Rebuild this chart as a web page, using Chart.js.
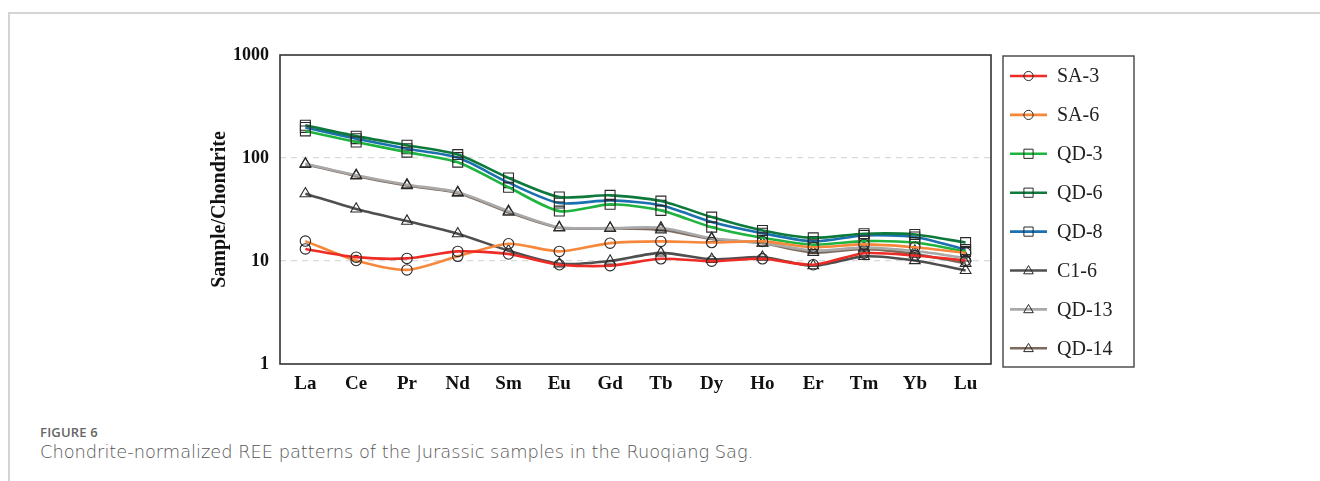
<!DOCTYPE html>
<html>
<head>
<meta charset="utf-8">
<script src="https://cdn.jsdelivr.net/npm/chart.js@4.4.1/dist/chart.umd.min.js"></script>
<style>
  html, body { margin: 0; padding: 0; background: #fff; }
  body { width: 1320px; height: 481px; position: relative; overflow: hidden; }
  #card { position: absolute; left: 8px; top: 12px; right: -10px; bottom: -10px;
          border-top: 2px solid #d4d4d4; border-left: 2px solid #d4d4d4; }
  #wrap { position: absolute; left: 0; top: 0; width: 1320px; height: 400px; }
  #fig { position: absolute; left: 40px; top: 423px; font-family: "Open Sans", sans-serif;
         font-size: 13px; font-weight: 600; color: #666; letter-spacing: 0.2px; }
  #cap { position: absolute; left: 40px; top: 441px; font-family: "DejaVu Sans", sans-serif;
         font-size: 17.8px; font-weight: 300; color: #555; white-space: nowrap; }
</style>
</head>
<body>
<div id="card"></div>
<div id="wrap"><canvas id="c" width="1320" height="400"></canvas></div>
<div id="fig">FIGURE 6</div>
<div id="cap">Chondrite-normalized REE patterns of the Jurassic samples in the Ruoqiang Sag.</div>
<script>
// ---- data ----
const categories = ["La","Ce","Pr","Nd","Sm","Eu","Gd","Tb","Dy","Ho","Er","Tm","Yb","Lu"];
const yTicks = [1, 10, 100, 1000];
const seriesNames = ["SA-3","SA-6","QD-3","QD-6","QD-8","C1-6","QD-13","QD-14"];
const SA3  = [13.1, 10.9, 10.6, 12.4, 11.7, 9.2, 9.0, 10.5, 9.95, 10.5, 9.2, 11.9, 11.3, 10.1];
const SA6  = [15.6, 10.1, 8.2, 11.1, 14.7, 12.4, 14.9, 15.5, 15.1, 15.5, 13.6, 14.5, 13.6, 12.0];
const QD3  = [183, 143, 114, 91, 52, 30.5, 35.5, 31, 21.3, 16.8, 14.4, 15.6, 15.1, 12.4];
const QD6  = [208, 163, 133, 108, 64, 41.8, 43.4, 38.2, 26.7, 19.8, 16.8, 18.4, 18.1, 15.1];
const QD8  = [198, 154, 123, 101, 57.6, 36.5, 38.8, 34.7, 23.9, 18.6, 15.5, 17.7, 17.1, 12.9];
const C16  = [45, 32, 24.4, 18.4, 12.6, 9.4, 10.0, 12.0, 10.4, 10.9, 9.0, 11.1, 10.1, 8.1];
const QD13 = [88, 68, 55, 46.5, 30.5, 21.2, 20.9, 21.0, 16.6, 15.0, 12.6, 13.5, 12.5, 10.7];
const QD14 = [87, 67, 54, 45.7, 29.8, 21.0, 20.8, 20.1, 16.4, 14.9, 12.1, 13.1, 11.7, 9.5];
const seriesValues = [SA3, SA6, QD3, QD6, QD8, C16, QD13, QD14];

// ---- styles ----
const colors = ["#ee2b25","#f7883b","#1fb33f","#0d7a3b","#1b70b0","#4f4f4f","#a9a9a9","#7e6a5c"];
const markers = ["circle","circle","rect","rect","rect","triangle","triangle","triangle"];
const markerRadius = {circle: 5.2, rect: 7, triangle: 6.2};

const datasets = seriesNames.map((name, i) => ({
  label: name,
  data: seriesValues[i],
  borderColor: colors[i],
  backgroundColor: colors[i],
  borderWidth: 2.6,
  tension: 0.25,
  pointStyle: markers[i],
  pointRadius: markerRadius[markers[i]],
  pointHoverRadius: markerRadius[markers[i]],
  pointBorderColor: "#2a2a2a",
  pointBorderWidth: 1.1,
  pointBackgroundColor: "rgba(0,0,0,0)",
  fill: false
}));

function drawMarker(ctx, style, x, y, r) {
  ctx.beginPath();
  if (style === "circle") {
    ctx.arc(x, y, r, 0, Math.PI * 2);
  } else if (style === "rect") {
    ctx.rect(x - r, y - r, 2 * r, 2 * r);
  } else {
    const h = r * 1.8, w = r * 2.1;
    ctx.moveTo(x, y - h * 0.6);
    ctx.lineTo(x + w / 2, y + h * 0.4);
    ctx.lineTo(x - w / 2, y + h * 0.4);
    ctx.closePath();
  }
  ctx.stroke();
}

const framePlugin = {
  id: "frameLegend",
  afterDraw(chart) {
    const ctx = chart.ctx;
    const a = chart.chartArea;
    ctx.save();
    ctx.strokeStyle = "#333";
    ctx.lineWidth = 1.6;
    ctx.strokeRect(a.left, a.top, a.right - a.left, a.bottom - a.top);
    // legend box
    const lx = 1003, ly = 56, lw = 131, lh = 311;
    ctx.strokeStyle = "#444";
    ctx.lineWidth = 1.4;
    ctx.strokeRect(lx, ly, lw, lh);
    const step = 38.9;
    ctx.font = '20px "Liberation Serif", "Times New Roman", serif';
    ctx.textBaseline = "middle";
    ctx.textAlign = "left";
    chart.data.datasets.forEach((ds, i) => {
      const y = 76 + i * step;
      ctx.strokeStyle = ds.borderColor;
      ctx.lineWidth = 2.6;
      ctx.beginPath();
      ctx.moveTo(1010, y);
      ctx.lineTo(1047, y);
      ctx.stroke();
      ctx.strokeStyle = "#2a2a2a";
      ctx.lineWidth = 1;
      drawMarker(ctx, ds.pointStyle, 1028.5, y, 4.6);
      ctx.fillStyle = "#222";
      ctx.fillText(ds.label, 1057, y + 1);
    });
    ctx.restore();
  }
};

new Chart(document.getElementById("c"), {
  type: "line",
  data: { labels: categories, datasets: datasets },
  plugins: [framePlugin],
  options: {
    responsive: false,
    animation: false,
    events: [],
    layout: { padding: { left: 200, right: 329, top: 55, bottom: 6 } },
    plugins: { legend: { display: false }, tooltip: { enabled: false } },
    scales: {
      x: {
        type: "category",
        offset: true,
        grid: { display: false, drawTicks: false },
        border: { display: false },
        ticks: {
          padding: 9,
          color: "#111",
          font: { family: '"Liberation Serif", "Times New Roman", serif', size: 19, weight: "bold" },
          maxRotation: 0
        },
        afterFit(scale) { scale.height = 30; }
      },
      y: {
        type: "logarithmic",
        min: 1,
        max: 1000,
        afterBuildTicks(scale) { scale.ticks = yTicks.map(v => ({ value: v })); },
        afterFit(scale) { scale.width = 80; },
        grid: {
          drawTicks: false,
          color: ctx => (ctx.tick && (ctx.tick.value === 10 || ctx.tick.value === 100)) ? "#d9d9d9" : "rgba(0,0,0,0)",
          lineWidth: 1.3
        },
        border: { display: false, dash: [6, 5] },
        ticks: {
          padding: 11,
          color: "#111",
          font: { family: '"Liberation Serif", "Times New Roman", serif', size: 18, weight: "bold" },
          callback: v => String(v)
        },
        title: {
          display: true,
          text: "Sample/Chondrite",
          color: "#111",
          padding: { top: 8, bottom: 0 },
          font: { family: '"Liberation Serif", "Times New Roman", serif', size: 20, weight: "bold" }
        }
      }
    }
  }
});
</script>
</body>
</html>
